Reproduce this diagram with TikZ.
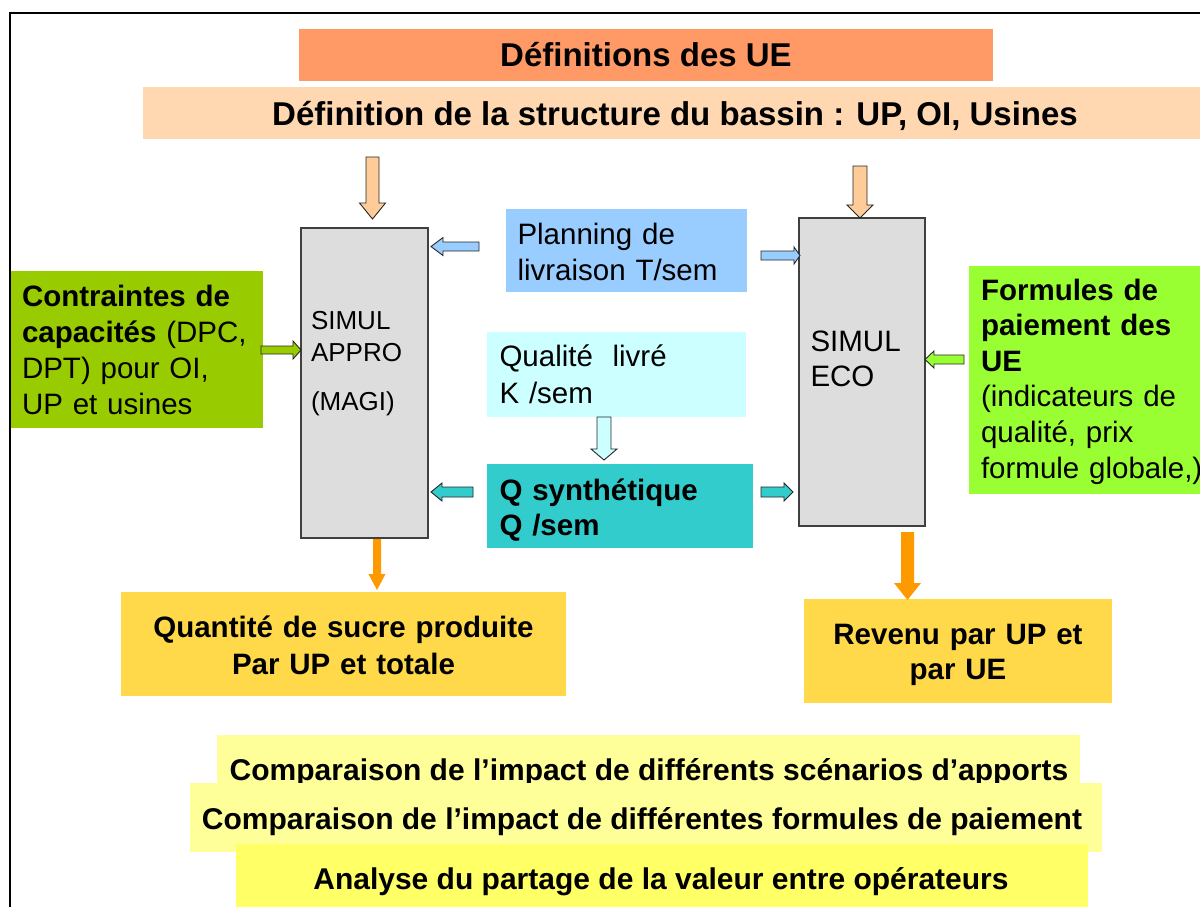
\documentclass[tikz,border=0pt]{standalone}
\usepackage{fontspec}
\setmainfont{Liberation Sans}
\usetikzlibrary{calc}
\definecolor{cDefs}{HTML}{FF9966}
\definecolor{cStruct}{HTML}{FFD8B1}
\definecolor{cPeach}{HTML}{FFCC99}
\definecolor{cGray}{HTML}{DDDDDD}
\definecolor{cBlue}{HTML}{99CCFF}
\definecolor{cOlive}{HTML}{99CC00}
\definecolor{cCyanL}{HTML}{CCFFFF}
\definecolor{cTeal}{HTML}{33CCCC}
\definecolor{cLime}{HTML}{99FF33}
\definecolor{cOrange}{HTML}{FF9900}
\definecolor{cGold}{HTML}{FFD94A}
\definecolor{cYelL}{HTML}{FFFF99}
\definecolor{cYel}{HTML}{FFFF66}
% style, start, tip, shaft half width, head half width, head length
\newcommand\blockarrow[6]{%
  \coordinate (ba) at ($(#3)!#6!(#2)$);
  \path[#1] ($(#2)!#4!90:(#3)$) -- ($(ba)!#4!90:(#3)$) -- ($(ba)!#5!90:(#3)$) -- (#3)
    -- ($(ba)!#5!-90:(#3)$) -- ($(ba)!#4!-90:(#3)$) -- ($(#2)!#4!-90:(#3)$) -- cycle;}
% name, x1, y1, x2, y2, style
\newcommand\boxat[6]{\node[#6, minimum width={#4pt-#2pt}, minimum height={#5pt-#3pt}] (#1) at ({(#2+#4)/2},{(#3+#5)/2}) {};}
\tikzset{
  plainbox/.style={rectangle, draw=none},
  simulbox/.style={rectangle, fill=cGray, draw=black!75, line width=1.3pt},
  titletext/.style={font=\fontsize{33}{40}\selectfont\bfseries, anchor=base},
  bodytext/.style={font=\fontsize{29.5}{36}\selectfont, align=left, anchor=base west},
  centertext/.style={font=\fontsize{29.5}{37}\selectfont\bfseries, align=center, anchor=base},
  bottomtext/.style={font=\fontsize{30}{37}\selectfont\bfseries, anchor=base},
  outlinedarrow/.style={draw=black!85, line width=0.9pt, line join=miter},
  solidarrow/.style={fill=cOrange, draw=none},
}
\begin{document}
\begin{tikzpicture}[x=1pt,y=-1pt, every node/.style={inner sep=0pt, outer sep=0pt}]
\useasboundingbox (0,0) rectangle (1200,906);
\fill[white] (0,0) rectangle (1200,906);

% frame
\draw[line width=2pt] (10,920) -- (10,13) -- (1215,13);

% top bars
\boxat{defs}{299}{29}{993}{81}{plainbox, fill=cDefs}
\node[titletext] (defsT) at (646,66.5) {Définitions des UE};
\boxat{struct}{143}{87}{1215}{139}{plainbox, fill=cStruct}
\node[titletext] (structT) at (675,125.5) {Définition de la structure du bassin : UP, OI, Usines};

% simulators
\boxat{appro}{301}{228}{428}{538}{simulbox}
\node[bodytext, font=\fontsize{26}{32}\selectfont, text width=112pt] (approT) at (311,329) {SIMUL\\APPRO\\[17pt](MAGI)};
\boxat{eco}{799}{218}{925}{526}{simulbox}
\node[bodytext, font=\fontsize{29.5}{35}\selectfont, text width=110pt] (ecoT) at (810.5,351) {SIMUL\\ECO};

% inputs
\boxat{plan}{506}{209}{747}{292}{plainbox, fill=cBlue}
\node[bodytext, text width=228pt] (planT) at (517.5,244) {Planning de\\livraison T/sem};
\boxat{contr}{11}{271}{263}{428}{plainbox, fill=cOlive}
\node[bodytext, text width=240pt] (contrT) at (22,306) {\textbf{Contraintes de}\\\textbf{capacités} (DPC,\\DPT) pour OI,\\UP et usines};
\boxat{qual}{487}{332}{746}{417}{plainbox, fill=cCyanL}
\node[bodytext, font=\fontsize{29.5}{37}\selectfont, text width=240pt] (qualT) at (499.5,366) {Qualité\ \ livré\\K /sem};
\boxat{qsyn}{487}{464}{753}{548}{plainbox, fill=cTeal}
\node[bodytext, font=\fontsize{29.5}{35}\selectfont\bfseries, text width=245pt] (qsynT) at (499.5,500) {Q synthétique\\Q /sem};
\boxat{form}{969}{266}{1230}{494}{plainbox, fill=cLime}
\node[bodytext, font=\fontsize{29.5}{35.6}\selectfont, text width=240pt] (formT) at (981,300) {\textbf{Formules de}\\\textbf{paiement des}\\\textbf{UE}\\(indicateurs de\\qualité, prix\\formule globale,)};

% outputs
\boxat{quant}{121}{592}{566}{696}{plainbox, fill=cGold}
\node[centertext, text width=440pt] (quantT) at (343.5,637) {Quantité de sucre produite\\Par UP et totale};
\boxat{rev}{804}{599}{1112}{703}{plainbox, fill=cGold}
\node[centertext, font=\fontsize{29.5}{35}\selectfont\bfseries, text width=300pt] (revT) at (958,644) {Revenu par UP et\\par UE};

% bottom bars
\boxat{bA}{217}{735}{1080}{809}{plainbox, fill=cYelL}
\node[bottomtext] (bAT) at (649,780) {Comparaison de l’impact de différents scénarios d’apports};
\boxat{bB}{190}{783}{1102}{852}{plainbox, fill=cYelL}
\node[bottomtext] (bBT) at (642,829) {Comparaison de l’impact de différentes formules de paiement};
\boxat{bC}{236}{844}{1088}{920}{plainbox, fill=cYel}
\node[bottomtext] (bCT) at (661,889) {Analyse du partage de la valeur entre opérateurs};

% arrow end points
\coordinate (p1s) at (372.5,157); \coordinate (p1e) at (372.5,219);
\coordinate (p2s) at (860,166);   \coordinate (p2e) at (860,218);
\coordinate (b1s) at (479,246.5); \coordinate (b1e) at (431,246.5);
\coordinate (b2s) at (761,255.5); \coordinate (b2e) at (800,255.5);
\coordinate (g1s) at (261,350);   \coordinate (g1e) at (301,350);
\coordinate (q1s) at (604,417);   \coordinate (q1e) at (604,460);
\coordinate (t1s) at (473,492);   \coordinate (t1e) at (431,492);
\coordinate (t2s) at (761,492);   \coordinate (t2e) at (793,492);
\coordinate (l1s) at (964,359.5); \coordinate (l1e) at (925,359.5);
\coordinate (o1s) at (377,539);   \coordinate (o1e) at (377,590);
\coordinate (o2s) at (907.5,532); \coordinate (o2e) at (907.5,600);

\blockarrow{outlinedarrow, fill=cPeach}{p1s}{p1e}{6.5pt}{13pt}{16pt}
\blockarrow{outlinedarrow, fill=cPeach}{p2s}{p2e}{7pt}{13pt}{13pt}
\blockarrow{outlinedarrow, fill=cBlue}{b1s}{b1e}{4.5pt}{9pt}{12pt}
\blockarrow{outlinedarrow, fill=cBlue}{b2s}{b2e}{4.5pt}{8.5pt}{6pt}
\blockarrow{outlinedarrow, fill=cOlive}{g1s}{g1e}{4pt}{9pt}{8pt}
\blockarrow{outlinedarrow, fill=cCyanL}{q1s}{q1e}{7pt}{13pt}{11pt}
\blockarrow{outlinedarrow, fill=cTeal}{t1s}{t1e}{5pt}{9pt}{11pt}
\blockarrow{outlinedarrow, fill=cTeal}{t2s}{t2e}{5pt}{9pt}{9pt}
\blockarrow{outlinedarrow, fill=cLime}{l1s}{l1e}{4.5pt}{8.5pt}{9pt}
\blockarrow{solidarrow}{o1s}{o1e}{4pt}{8.5pt}{16pt}
\blockarrow{solidarrow}{o2s}{o2e}{6.5pt}{13.5pt}{17pt}
\end{tikzpicture}
\end{document}
